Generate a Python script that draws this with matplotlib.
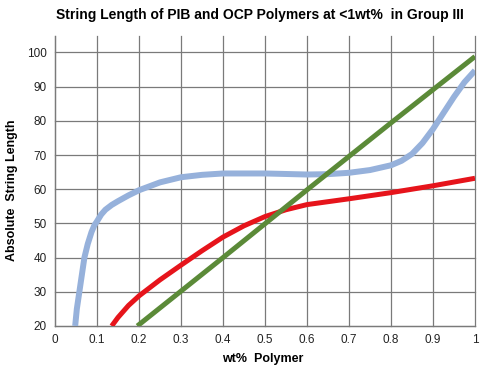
import matplotlib
matplotlib.use("Agg")
import matplotlib.pyplot as plt

# Data
pib_x = [0.048, 0.052, 0.058, 0.064, 0.070, 0.078, 0.087, 0.094, 0.100, 0.110,
         0.120, 0.135, 0.150, 0.175, 0.200, 0.250, 0.300, 0.350, 0.400, 0.500,
         0.600, 0.650, 0.700, 0.750, 0.800, 0.825, 0.850, 0.875, 0.900, 0.925,
         0.950, 0.975, 1.000]
pib_y = [20, 25, 30, 35, 40, 44, 47.5, 49.5, 50.6, 52.6,
         54, 55.4, 56.5, 58.2, 59.7, 62, 63.5, 64.2, 64.6, 64.6,
         64.3, 64.4, 64.8, 65.6, 67, 68.3, 70.3, 73.5, 77.6, 82.3,
         87, 91.3, 94.7]

red_x = [0.135, 0.15, 0.175, 0.20, 0.25, 0.30, 0.35, 0.40, 0.45, 0.50, 0.55,
         0.60, 0.70, 0.80, 0.90, 1.00]
red_y = [20, 22.5, 26, 28.8, 33.5, 37.8, 42, 46, 49.3, 52, 54,
         55.5, 57.2, 59, 61, 63.2]

green_x = [0.196, 0.40, 0.60, 0.80, 1.00]
green_y = [20, 40, 59.8, 79.4, 98.8]

x_ticks = [0, 0.1, 0.2, 0.3, 0.4, 0.5, 0.6, 0.7, 0.8, 0.9, 1.0]
x_tick_labels = ["0", "0.1", "0.2", "0.3", "0.4", "0.5", "0.6", "0.7", "0.8", "0.9", "1"]
y_ticks = [20, 30, 40, 50, 60, 70, 80, 90, 100]

plt.rcParams['font.family'] = ['Liberation Sans', 'DejaVu Sans']

fig = plt.figure(figsize=(4.85, 3.71), dpi=100)
ax = fig.add_axes([55/485, 1 - 326/371, 420/485, (326 - 36)/371])

ax.plot(pib_x, pib_y, color="#96B1DB", lw=4.3, solid_capstyle="butt", solid_joinstyle="round", zorder=3)
ax.plot(red_x, red_y, color="#E6141B", lw=3.6, solid_capstyle="butt", solid_joinstyle="round", zorder=4)
ax.plot(green_x, green_y, color="#5B8A38", lw=3.6, solid_capstyle="butt", solid_joinstyle="round", zorder=5)

ax.set_xlim(0, 1)
ax.set_ylim(20, 104.8)
ax.set_xticks(x_ticks)
ax.set_xticklabels(x_tick_labels)
ax.set_yticks(y_ticks)
ax.tick_params(length=0, labelsize=8.5, colors="#222222", pad=6)
ax.grid(True, color="#7A7A7A", lw=0.9, zorder=1)
for gl in ax.get_xgridlines() + ax.get_ygridlines():
    gl.set_clip_on(False)
ax.set_axisbelow(True)
for s in ["top", "right"]:
    ax.spines[s].set_visible(False)
for s in ["left", "bottom"]:
    ax.spines[s].set_color("#7A7A7A")
    ax.spines[s].set_linewidth(0.9)

fig.text(260/485, 1 - 15/371, "String Length of PIB and OCP Polymers at <1wt%  in Group III",
         ha="center", va="center", fontsize=10, fontweight="bold")
fig.text(263/485, 1 - 359/371, "wt%  Polymer", ha="center", va="center",
         fontsize=9, fontweight="bold")
fig.text(12/485, 1 - 190/371, "Absolute  String Length", ha="center", va="center",
         rotation=90, fontsize=9, fontweight="bold")

fig.savefig("out.png", dpi=100)
